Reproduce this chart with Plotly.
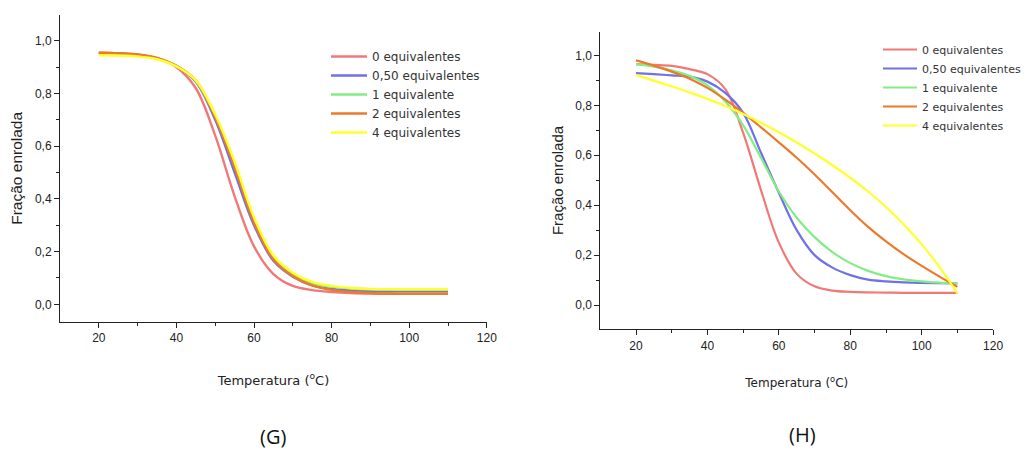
import plotly.graph_objects as go

# ---------------- data ----------------
temp = [20, 25, 30, 35, 40, 45, 50, 55, 60, 65, 70, 75, 80, 85, 90, 95, 100, 105, 110]
series_names = ["0 equivalentes", "0,50 equivalentes", "1 equivalente", "2 equivalentes", "4 equivalentes"]
colors = ["#F07878", "#7070E8", "#84EC84", "#EC7A2A", "#FFFF2A"]

# Panel G
g_eq0 = [0.955, 0.953, 0.948, 0.933, 0.900, 0.820, 0.640, 0.410, 0.220, 0.115, 0.070, 0.054, 0.047, 0.043, 0.041, 0.040, 0.040, 0.040, 0.040]
g_eq050 = [0.953, 0.951, 0.946, 0.934, 0.904, 0.845, 0.700, 0.500, 0.300, 0.165, 0.105, 0.072, 0.058, 0.053, 0.051, 0.050, 0.050, 0.050, 0.050]
g_eq1 = [0.950, 0.949, 0.945, 0.934, 0.905, 0.848, 0.712, 0.525, 0.318, 0.178, 0.115, 0.080, 0.066, 0.060, 0.057, 0.056, 0.055, 0.055, 0.055]
g_eq2 = [0.955, 0.953, 0.948, 0.935, 0.905, 0.850, 0.710, 0.520, 0.310, 0.170, 0.107, 0.072, 0.055, 0.047, 0.043, 0.041, 0.040, 0.040, 0.040]
g_eq4 = [0.945, 0.944, 0.941, 0.930, 0.903, 0.850, 0.720, 0.540, 0.330, 0.185, 0.120, 0.085, 0.070, 0.062, 0.058, 0.057, 0.057, 0.057, 0.057]

# Panel H
h_eq0 = [0.965, 0.962, 0.958, 0.945, 0.925, 0.865, 0.690, 0.460, 0.250, 0.125, 0.075, 0.058, 0.053, 0.051, 0.050, 0.049, 0.049, 0.049, 0.049]
h_eq050 = [0.929, 0.925, 0.920, 0.915, 0.895, 0.850, 0.770, 0.610, 0.450, 0.300, 0.200, 0.150, 0.120, 0.102, 0.095, 0.091, 0.089, 0.088, 0.087]
h_eq1 = [0.965, 0.955, 0.940, 0.918, 0.880, 0.815, 0.720, 0.590, 0.455, 0.350, 0.272, 0.212, 0.168, 0.137, 0.116, 0.103, 0.095, 0.090, 0.087]
h_eq2 = [0.980, 0.959, 0.935, 0.907, 0.870, 0.823, 0.770, 0.712, 0.652, 0.590, 0.523, 0.452, 0.380, 0.313, 0.255, 0.203, 0.157, 0.114, 0.073]
h_eq4 = [0.922, 0.899, 0.876, 0.852, 0.826, 0.797, 0.765, 0.730, 0.692, 0.651, 0.607, 0.560, 0.510, 0.455, 0.393, 0.323, 0.243, 0.152, 0.047]

x_ticks = [20, 40, 60, 80, 100, 120]
y_ticks = [0.0, 0.2, 0.4, 0.6, 0.8, 1.0]
x_title = "Temperatura (<sup>o</sup>C)"
y_title = "Fração enrolada"
panel_labels = ["(G)", "(H)"]

# ---------------- figure ----------------
fig = go.Figure()

g_data = [g_eq0, g_eq050, g_eq1, g_eq2, g_eq4]
h_data = [h_eq0, h_eq050, h_eq1, h_eq2, h_eq4]

for name, col, ys in zip(series_names, colors, g_data):
    fig.add_trace(go.Scatter(x=temp, y=ys, name=name, mode="lines",
                             line=dict(color=col, width=2.4, shape="spline", smoothing=1.0),
                             xaxis="x", yaxis="y", legend="legend"))
for name, col, ys in zip(series_names, colors, h_data):
    fig.add_trace(go.Scatter(x=temp, y=ys, name=name, mode="lines",
                             line=dict(color=col, width=2.2, shape="spline", smoothing=1.0),
                             xaxis="x2", yaxis="y2", legend="legend2"))

W, H = 1026, 450

def xdom(a, b):
    return [a / W, b / W]

def ydom(top, bottom):
    return [1 - bottom / H, 1 - top / H]

tickfont = dict(family="Liberation Sans, Arial, sans-serif", size=12, color="#222222")

def x_axis(dom, anchor, title_size, standoff):
    return dict(domain=dom, anchor=anchor, automargin=False, range=[9.99, 120.05],
                tickmode="array", tickvals=x_ticks,
                ticks="outside", ticklen=5, tickwidth=1, tickcolor="#222",
                showline=True, linecolor="#222", linewidth=1,
                showgrid=False, zeroline=False, tickfont=tickfont,
                minor=dict(ticks="outside", ticklen=3, tickcolor="#222",
                           tickvals=[30, 50, 70, 90, 110], showgrid=False),
                title=dict(text=x_title, standoff=standoff,
                           font=dict(family="DejaVu Sans, sans-serif", size=title_size, color="#222")))

def y_axis(dom, anchor, rng, title_size, standoff):
    return dict(domain=dom, anchor=anchor, automargin=False, range=rng,
                tickmode="array", tickvals=y_ticks, tickformat=".1f",
                ticks="outside", ticklen=5, tickwidth=1, tickcolor="#222",
                showline=True, linecolor="#222", linewidth=1,
                showgrid=False, zeroline=False, tickfont=tickfont,
                minor=dict(ticks="outside", ticklen=3, tickcolor="#222",
                           tickvals=[-0.1, 0.1, 0.3, 0.5, 0.7, 0.9, 1.1], showgrid=False),
                title=dict(text=y_title, standoff=standoff,
                           font=dict(family="Liberation Sans, Arial, sans-serif", size=title_size, color="#222")))

fig.update_layout(
    width=W, height=H,
    margin=dict(l=0, r=0, t=0, b=0, autoexpand=False),
    paper_bgcolor="white", plot_bgcolor="white",
    separators=",.",
    xaxis=x_axis(xdom(60, 487), "y", 13, 31),
    yaxis=y_axis(ydom(15, 321.7), "x", [-0.066, 1.098], 15.5, 8),
    xaxis2=x_axis(xdom(600.3, 993.3), "y2", 12, 26),
    yaxis2=y_axis(ydom(31.7, 329.3), "x2", [-0.097, 1.095], 15, 7),
    legend=dict(x=326 / W, y=1 - 42 / H, xanchor="left", yanchor="top",
                bgcolor="rgba(0,0,0,0)", borderwidth=0, itemwidth=36, tracegroupgap=0,
                font=dict(family="DejaVu Sans, sans-serif", size=12, color="#333")),
    legend2=dict(x=878 / W, y=1 - 35 / H, xanchor="left", yanchor="top",
                 bgcolor="rgba(0,0,0,0)", borderwidth=0, itemwidth=34, tracegroupgap=0,
                 font=dict(family="DejaVu Sans, sans-serif", size=11, color="#333")),
    showlegend=True,
    annotations=[
        dict(text=panel_labels[0], x=272.5 / W, y=1 - 436 / H, xref="paper", yref="paper",
             xanchor="center", yanchor="middle", showarrow=False,
             font=dict(family="Open Sans, Liberation Sans, sans-serif", size=20, color="#111")),
        dict(text=panel_labels[1], x=802.5 / W, y=1 - 434 / H, xref="paper", yref="paper",
             xanchor="center", yanchor="middle", showarrow=False,
             font=dict(family="Open Sans, Liberation Sans, sans-serif", size=20, color="#111")),
    ],
)

fig.write_html("out.html")
